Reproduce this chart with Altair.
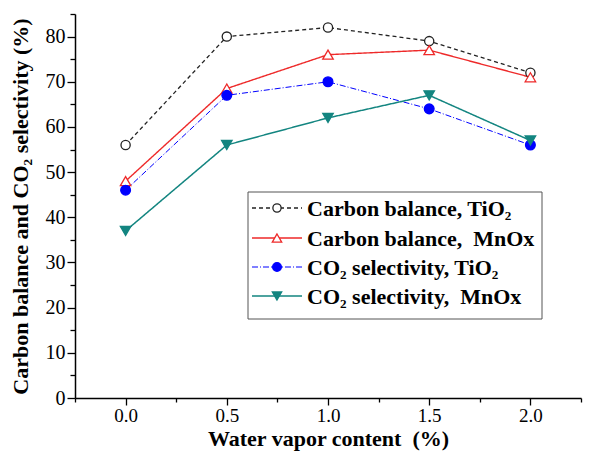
import altair as alt
import pandas as pd

water = [0.0, 0.5, 1.0, 1.5, 2.0]
cb_tio2 = [56, 80, 82, 79, 72]
cb_mnox = [48, 68.5, 76, 77, 71]
sel_tio2 = [46, 67, 70, 64, 56]
sel_mnox = [37, 56, 62, 67, 57]

series = ["Carbon balance, TiO₂", "Carbon balance,\u00a0 MnOx",
          "CO₂ selectivity, TiO₂", "CO₂ selectivity,\u00a0 MnOx"]
colors = ["#222222", "#ee2a2a", "#0000ff", "#138580"]
fills = ["white", "white", "#0000ff", "#138580"]
shapes = ["circle", "triangle-up", "circle", "triangle-down"]
dashes = [[4, 3], [1, 0], [6, 2, 1, 2], [1, 0]]
widths = [1.3, 1.4, 1.0, 1.5]
sizes = [85, 110, 95, 110]

rows = []
for s, vals in zip(series, [cb_tio2, cb_mnox, sel_tio2, sel_mnox]):
    for x, y in zip(water, vals):
        rows.append({"series": s, "water": x, "value": y})
df = pd.DataFrame(rows)

FONT = "Times New Roman, Liberation Serif, serif"
W, H = 506, 384

xs = alt.Scale(domain=[-0.25, 2.25], nice=False, zero=False)
ys = alt.Scale(domain=[0, 85], nice=False)

x_vals = [-0.25 + 0.25 * i for i in range(11)]
y_vals = [5 * i for i in range(18)]

xenc = alt.X("water:Q", scale=xs, title="Water vapor content\u00a0 (%)",
             axis=alt.Axis(values=x_vals, format=".1f",
                           labelExpr="abs(datum.value*2 - round(datum.value*2)) < 0.01 ? datum.label : ''",
                           tickSize={"condition": {"test": "abs(datum.value*2 - round(datum.value*2)) < 0.01", "value": 7}, "value": 4},
                           labelPadding=1, labelBaseline="top", labelFontSize=19,
                           titleY=47, titleBaseline="alphabetic",
                           grid=False))
yenc = alt.Y("value:Q", scale=ys, title="Carbon balance and CO₂ selectivity (%)",
             axis=alt.Axis(values=y_vals,
                           labelExpr="datum.value % 10 === 0 ? datum.label : ''",
                           tickSize={"condition": {"test": "datum.value % 10 === 0", "value": 8}, "value": 5},
                           labelPadding=2, titlePadding=13, grid=False))

base = alt.Chart(df)
lines = []
points = []
for i, s in enumerate(series):
    sub = base.transform_filter(alt.datum.series == s)
    lines.append(sub.mark_line(color=colors[i], strokeDash=dashes[i],
                               strokeWidth=widths[i]).encode(x=xenc, y=yenc))
    points.append(sub.mark_point(shape=shapes[i], filled=False, fill=fills[i],
                                 fillOpacity=1, stroke=colors[i], strokeWidth=1.3,
                                 opacity=1, size=sizes[i]).encode(x=xenc, y=yenc))

one = alt.Chart(pd.DataFrame({"a": [0]}))
box = one.mark_rect(fill="white", stroke="#555555", strokeWidth=1).encode(
    x=alt.value(173), x2=alt.value(467), y=alt.value(178), y2=alt.value(305))

leg_layers = [box]
row_y = [194, 224, 253, 282]
for i, s in enumerate(series):
    leg_layers.append(one.mark_rule(color=colors[i], strokeDash=dashes[i],
                                    strokeWidth=widths[i]).encode(
        x=alt.value(177), x2=alt.value(227), y=alt.value(row_y[i])))
    leg_layers.append(one.mark_point(shape=shapes[i], filled=False, fill=fills[i],
                                     fillOpacity=1, stroke=colors[i], strokeWidth=1.3,
                                     opacity=1, size=sizes[i] * 0.8).encode(
        x=alt.value(202), y=alt.value(row_y[i])))
    leg_layers.append(one.mark_text(text=s, align="left", baseline="middle",
                                    font=FONT, fontSize=22, fontWeight="bold",
                                    color="black").encode(
        x=alt.value(232), y=alt.value(row_y[i] + 1)))

chart = alt.layer(*lines, *points, *leg_layers).properties(
    width=W, height=H,
    autosize=alt.AutoSizeParams(type="none"),
    padding={"left": 67, "top": 6, "right": 3, "bottom": 60},
).configure_view(stroke=None).configure_axis(
    domainColor="black", domainWidth=1.5, tickColor="black", tickWidth=1.3,
    labelFont=FONT, labelFontSize=20, labelColor="black",
    titleFont=FONT, titleFontSize=22, titleFontWeight="bold", titleColor="black",
)

chart.save("out.html", embed_options={"renderer": "svg", "actions": False})
